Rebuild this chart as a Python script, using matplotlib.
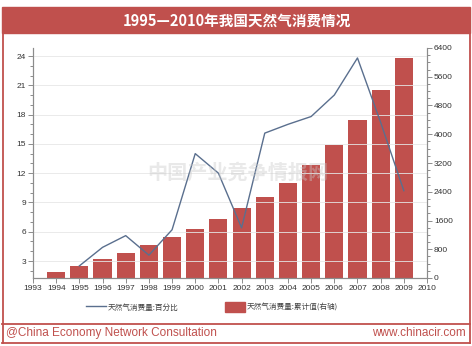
import matplotlib
matplotlib.use('Agg')
from matplotlib import pyplot as plt
from matplotlib.patches import Rectangle
from matplotlib.lines import Line2D
from matplotlib.ticker import MultipleLocator

plt.rcParams['font.family'] = ['Liberation Sans', 'Noto Sans CJK SC', 'DejaVu Sans']

RED = '#c0504d'
LINE = '#5a6f8e'
AXIS = '#8c8c8c'

# cumulative consumption (right axis), 1994-2009
bar_years = [1994, 1995, 1996, 1997, 1998, 1999, 2000, 2001,
             2002, 2003, 2004, 2005, 2006, 2007, 2008, 2009]
bar_values = [170, 335, 530, 700, 920, 1140, 1365, 1645,
              1950, 2255, 2645, 3150, 3700, 4400, 5240, 6130]

# year-on-year percentage (left axis), 1995-2009
pct_years = [1995, 1996, 1997, 1998, 1999, 2000, 2001, 2002,
             2003, 2004, 2005, 2006, 2007, 2008, 2009]
pct_values = [2.5, 4.4, 5.6, 3.6, 6.2, 14.0, 12.0, 6.4,
              16.1, 17.0, 17.8, 20.0, 23.8, 17.2, 10.2]

title = '1995—2010年我国天然气消费情况'
label_pct = '天然气消费量:百分比'
label_sum = '天然气消费量:累计值(右轴)'

W, H = 472, 346
fig = plt.figure(figsize=(W / 100, H / 100), dpi=100)


def fx(px):
  return px / W


def fy(py):
  return 1 - py / H


# frame: title bar, side borders, footer separator
fig.patches.append(Rectangle((fx(2), fy(33)), fx(468), 26 / H,
                             transform=fig.transFigure, color=RED, zorder=0))
for x in (2.5, 469.5):
  fig.lines.append(Line2D([fx(x), fx(x)], [fy(33), fy(343)],
                          transform=fig.transFigure, color=RED, lw=1.3))
for y in (323.5, 342.5):
  fig.lines.append(Line2D([fx(2), fx(470)], [fy(y), fy(y)],
                          transform=fig.transFigure, color=RED, lw=1.3))

fig.text(fx(237), fy(20.5), title, color='white', fontsize=10.5, fontweight='bold',
         ha='center', va='center', family=['Noto Sans CJK SC', 'DejaVu Sans'])

ax = fig.add_axes([fx(33), fy(278), fx(427 - 33), (278 - 48) / H])
ax2 = ax.twinx()
ax.set_zorder(ax2.get_zorder() + 1)
ax.patch.set_visible(False)

ax2.bar(bar_years, bar_values, width=0.78, color=RED, zorder=2)
ax.plot(pct_years, pct_values, color=LINE, lw=1.0, zorder=3)

ax.set_xlim(1993, 2010)
ax.set_ylim(1.26, 24.82)
ax2.set_ylim(0, 6400)
ax.set_xticks(range(1993, 2011))

ax.yaxis.set_major_locator(MultipleLocator(3))
ax.yaxis.set_minor_locator(MultipleLocator(1))
ax2.yaxis.set_major_locator(MultipleLocator(800))
ax2.yaxis.set_minor_locator(MultipleLocator(200))

ax.yaxis.grid(True, color='#e6e6e6', lw=0.6)
ax.set_axisbelow(True)

for a in (ax, ax2):
  for s in a.spines.values():
    s.set_color(AXIS)
    s.set_linewidth(0.8)
  a.spines['top'].set_visible(False)
  a.tick_params(which='both', colors=AXIS, labelcolor='#333333',
                labelsize=6, width=0.7, pad=1.5)
  a.tick_params(which='major', length=3.5)
  a.tick_params(which='minor', length=2)

# watermark
ax.text(0.52, 0.46, '中国产业竞争情报网', transform=ax.transAxes, ha='center',
        va='center', fontsize=14.5, fontweight='bold', color='#c8c8c8',
        alpha=0.4, zorder=5, family=['Noto Sans CJK SC', 'DejaVu Sans'])

handles = [Line2D([], [], color=LINE, lw=1.0),
           Rectangle((0, 0), 1, 1, color=RED)]
fig.legend(handles, [label_pct, label_sum], loc='center', ncol=2,
           bbox_to_anchor=(fx(212), fy(307)), frameon=False,
           prop={'family': ['Noto Sans CJK SC', 'DejaVu Sans'], 'size': 5.5},
           handlelength=2.6, handleheight=1.6, handletextpad=0.3,
           columnspacing=6.0, labelcolor='#404040')

fig.text(fx(6), fy(333), '@China Economy Network Consultation', color=RED,
         fontsize=8.5, ha='left', va='center')
fig.text(fx(466), fy(333), 'www.chinacir.com', color=RED,
         fontsize=8.5, ha='right', va='center')

fig.savefig('out.png', dpi=100)
